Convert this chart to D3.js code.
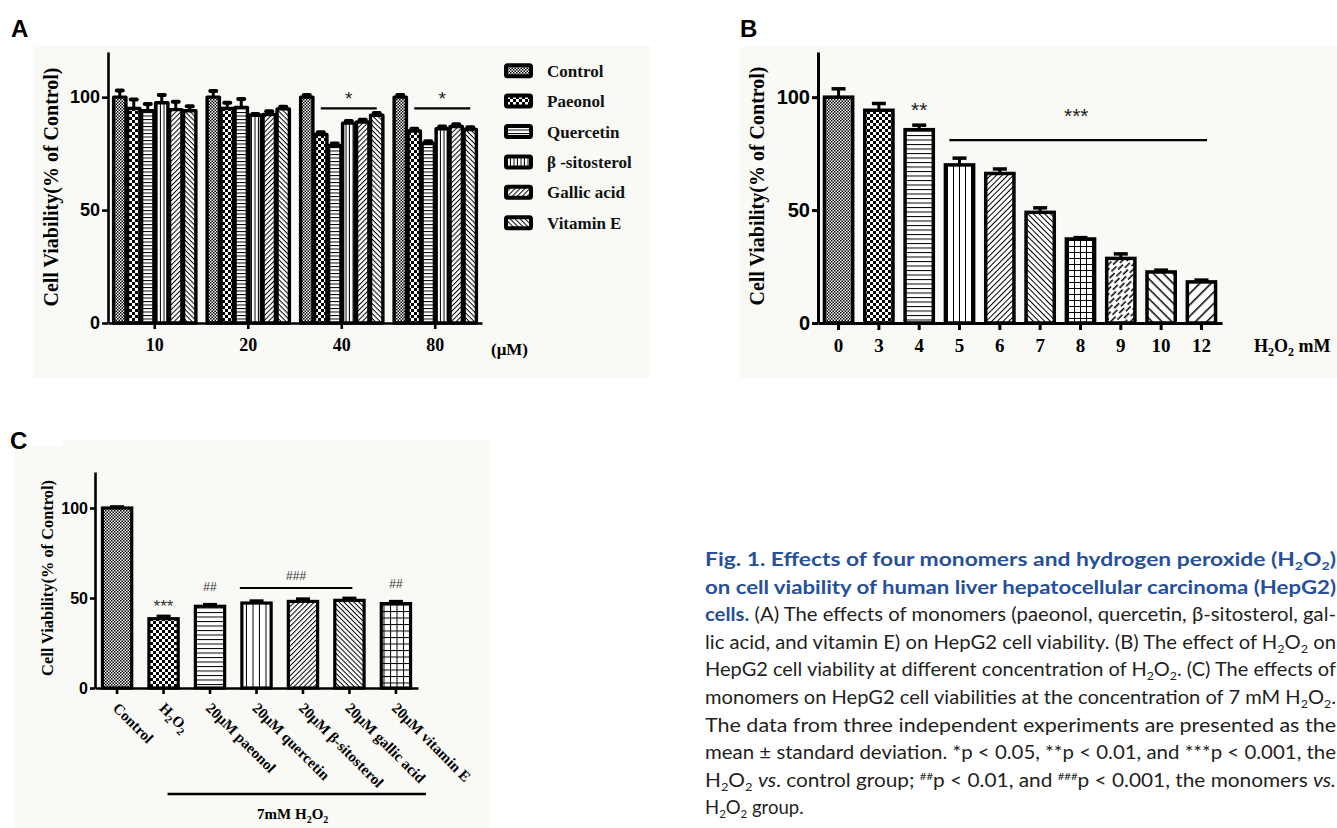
<!DOCTYPE html>
<html><head><meta charset="utf-8">
<script src="https://cdn.jsdelivr.net/npm/d3@7"></script>
<style>
html,body{margin:0;padding:0;background:#fff;}
svg{display:block;}
</style></head><body>
<svg id="fig" width="1337" height="828"></svg>
<script>
// ================= DATA =================
const yTicks = [0, 50, 100];

// Panel A : monomers at four doses (µM)
const doseA = ["10", "20", "40", "80"];
const seriesA = ["Control", "Paeonol", "Quercetin", "β -sitosterol", "Gallic acid", "Vitamin E"];
const controlA    = [100, 100, 100, 100];
const paeonolA    = [95, 95, 83.5, 85];
const quercetinA  = [94, 95.5, 78.5, 79.5];
const sitosterolA = [97.5, 92, 88.5, 86];
const gallicA     = [94.5, 92.3, 89, 87];
const vitaminEA   = [94, 94.8, 92, 85.7];
const controlErrA    = [3, 2.7, 1, 1];
const paeonolErrA    = [4, 2.5, 1, 1];
const quercetinErrA  = [3, 3.7, 1, 1];
const sitosterolErrA = [3.5, 0.6, 1, 1];
const gallicErrA     = [3.5, 1.5, 1, 1];
const vitaminEErrA   = [2, 1, 1, 1];

// Panel B : H2O2 concentration (mM)
const concB = ["0", "3", "4", "5", "6", "7", "8", "9", "10", "12"];
const meanB = [100, 94.2, 85.6, 70, 66.2, 49, 37.2, 28.6, 22.6, 18.2];
const errB  = [3.7, 3, 2, 3, 2, 2, 0.6, 2, 0.8, 0.8];

// Panel C : monomers at 7 mM H2O2
const groupsC = ["Control", "H2O2", "20μM paeonol", "20μM quercetin", "20μM β-sitosterol", "20μM gallic acid", "20μM vitamin E"];
const meanC = [100, 38.5, 45.4, 47.2, 48.1, 48.7, 46.9];
const errC  = [0.6, 1.3, 0.9, 1.1, 1.3, 1.1, 1.1];

// significance marks
const sigA = [{dose: "40", label: "*", level: 95}, {dose: "80", label: "*", level: 95}];
const sigB = [{bar: "4", label: "**"}];
const sigBLine = {from: "5", to: "12", label: "***", level: 81};
const sigC = [{bar: "H2O2", label: "***"}, {bar: "20μM paeonol", label: "##"}, {bar: "20μM vitamin E", label: "##"}];
const sigCLine = {from: "20μM quercetin", to: "20μM gallic acid", label: "###", level: 55.5};

// ================= DRAWING =================
const SERIF = "'Liberation Serif','Times New Roman',serif";
const SANS = "'Liberation Sans',Arial,sans-serif";
const svg = d3.select("#fig");
const defs = svg.append("defs");

function pattern(id, w, h, transform, draw) {
  const p = defs.append("pattern").attr("id", id)
    .attr("patternUnits", "userSpaceOnUse").attr("width", w).attr("height", h);
  if (transform) p.attr("patternTransform", transform);
  p.append("rect").attr("width", w).attr("height", h).attr("fill", "#fff");
  draw(p);
}
function checker(id, c) {
  pattern(id, 2 * c, 2 * c, null, p => {
    p.append("rect").attr("width", c).attr("height", c).attr("fill", "#000");
    p.append("rect").attr("x", c).attr("y", c).attr("width", c).attr("height", c).attr("fill", "#000");
  });
}
function lines(id, s, sw, angle) {
  pattern(id, s, s, `rotate(${angle})`, p =>
    p.append("rect").attr("width", s).attr("height", sw).attr("fill", "#000"));
}
function grid(id, s, sw) {
  pattern(id, s, s, null, p => {
    p.append("rect").attr("width", s).attr("height", sw).attr("fill", "#000");
    p.append("rect").attr("width", sw).attr("height", s).attr("fill", "#000");
  });
}
function dashDiag(id) {
  pattern(id, 12, 7, "rotate(-45)", p => {
    p.append("rect").attr("x", 0).attr("y", 0.5).attr("width", 7).attr("height", 1.5).attr("fill", "#000");
    p.append("rect").attr("x", 6).attr("y", 4).attr("width", 7).attr("height", 1.5).attr("fill", "#000");
    p.append("rect").attr("x", -6).attr("y", 4).attr("width", 7).attr("height", 1.5).attr("fill", "#000");
  });
}
// A
checker("aCtrl", 1.5); checker("aPae", 3);
lines("aQue", 3.5, 1, 0); lines("aSit", 3.5, 1, 90); lines("aGal", 3.5, 1, -45); lines("aVit", 3.5, 1, 45);
// B
checker("bC1", 1.5); checker("bC2", 3);
lines("bH", 4.5, 1, 0); lines("bV", 6, 1, 90); lines("bD1", 4, 1, -45); lines("bD2", 4, 1, 45);
grid("bG", 6, 1); dashDiag("bDash"); lines("bW1", 7, 1.5, 45); lines("bW2", 8, 1.5, -45);
// C
checker("cC1", 1.5); checker("cC2", 3);
lines("cH", 4.5, 1, 0); lines("cV", 6.5, 1, 90); lines("cD1", 3.5, 1, -45); lines("cD2", 3.5, 1, 45);
grid("cG", 6.5, 1);

const patA = ["aCtrl", "aPae", "aQue", "aSit", "aGal", "aVit"];
const patB = ["bC1", "bC2", "bH", "bV", "bD1", "bD2", "bG", "bDash", "bW1", "bW2"];
const patC = ["cC1", "cC2", "cH", "cV", "cD1", "cD2", "cG"];

// panel backgrounds
const BG = "#f9f9f6";
svg.append("rect").attr("x", 33).attr("y", 45).attr("width", 617).attr("height", 333).attr("fill", BG);
svg.append("rect").attr("x", 740).attr("y", 47).attr("width", 597).attr("height", 331).attr("fill", BG);
svg.append("rect").attr("x", 15).attr("y", 446).attr("width", 475).attr("height", 382).attr("fill", BG);
svg.append("rect").attr("x", 63).attr("y", 440).attr("width", 427).attr("height", 6).attr("fill", BG);

function panelLetter(t, x, y) {
  svg.append("text").attr("x", x).attr("y", y).text(t)
    .attr("font-family", SANS).attr("font-weight", "bold").attr("font-size", 24).attr("fill", "#000");
}
function styleAxis(g, sw, font, size) {
  g.select(".domain").attr("stroke-width", sw).attr("stroke", "#000");
  g.selectAll(".tick line").attr("stroke-width", sw).attr("stroke", "#000");
  g.selectAll(".tick text").attr("font-family", font).attr("font-weight", "bold")
    .attr("font-size", size).attr("fill", "#000");
}
function yLabel(text, x, y, size) {
  svg.append("text").attr("transform", `translate(${x},${y}) rotate(-90)`)
    .attr("text-anchor", "middle").attr("font-family", SERIF).attr("font-weight", "bold")
    .attr("font-size", size).attr("fill", "#000").text(text);
}
function h2o2(sel, prefix, suffix, subSize) {
  if (prefix) sel.append("tspan").text(prefix);
  sel.append("tspan").text("H");
  sel.append("tspan").attr("font-size", subSize).attr("dy", 4).text("2");
  sel.append("tspan").attr("dy", -4).text("O");
  sel.append("tspan").attr("font-size", subSize).attr("dy", 4).text("2");
  if (suffix) sel.append("tspan").attr("dy", -4).text(suffix);
}

// ---------- Panel A ----------
panelLetter("A", 11, 37);
const yA = d3.scaleLinear().domain([0, 120]).range([323, 52]);
const x0A = d3.scaleBand().domain(doseA).range([108, 482]).paddingInner(0.12).paddingOuter(0.06);
const x1A = d3.scaleBand().domain(d3.range(seriesA.length)).range([0, x0A.bandwidth()]).paddingInner(0.12);
const valsA = [controlA, paeonolA, quercetinA, sitosterolA, gallicA, vitaminEA];
const errsA = [controlErrA, paeonolErrA, quercetinErrA, sitosterolErrA, gallicErrA, vitaminEErrA];

const gA = svg.append("g");
doseA.forEach((d, i) => {
  seriesA.forEach((s, j) => {
    const v = valsA[j][i], e = errsA[j][i];
    const x = x0A(d) + x1A(j), w = x1A.bandwidth();
    gA.append("line").attr("x1", x + w / 2).attr("x2", x + w / 2)
      .attr("y1", yA(v)).attr("y2", yA(v + e)).attr("stroke", "#000").attr("stroke-width", 3);
    gA.append("line").attr("x1", x + w / 2 - 3).attr("x2", x + w / 2 + 3)
      .attr("y1", yA(v + e)).attr("y2", yA(v + e)).attr("stroke", "#000")
      .attr("stroke-width", 4).attr("stroke-linecap", "round");
    gA.append("rect").attr("x", x).attr("y", yA(v)).attr("width", w).attr("height", yA(0) - yA(v))
      .attr("fill", `url(#${patA[j]})`).attr("stroke", "#000").attr("stroke-width", 3.4)
      .attr("stroke-linejoin", "round");
  });
});
const gyA = svg.append("g").attr("transform", "translate(108,0)")
  .call(d3.axisLeft(yA).tickValues(yTicks).tickSize(6).tickSizeOuter(0).tickPadding(2));
styleAxis(gyA, 2.6, SANS, 18);
const gxA = svg.append("g").attr("transform", "translate(0,323)")
  .call(d3.axisBottom(x0A).tickSize(6).tickSizeOuter(0).tickPadding(9));
styleAxis(gxA, 2.6, SERIF, 18);
yLabel("Cell  Viability(% of Control)", 58, 187, 20);
svg.append("text").attr("x", 491).attr("y", 355).text("(μM)")
  .attr("font-family", SERIF).attr("font-weight", "bold").attr("font-size", 17);
sigA.forEach(s => {
  const xl = x0A(s.dose) + x1A(1) + x1A.bandwidth() / 2;
  const xr = x0A(s.dose) + x1A(5) + x1A.bandwidth() / 2;
  svg.append("line").attr("x1", xl).attr("x2", xr).attr("y1", yA(s.level)).attr("y2", yA(s.level))
    .attr("stroke", "#000").attr("stroke-width", 2.2);
  svg.append("text").attr("x", (xl + xr) / 2).attr("y", yA(s.level) - 3).attr("text-anchor", "middle")
    .attr("font-family", SANS).attr("font-size", 19).attr("fill", "#222").text(s.label);
});
// legend A
const legA = d3.scalePoint().domain(seriesA).range([70.7, 222.7]);
seriesA.forEach((s, j) => {
  const cy = legA(s);
  svg.append("rect").attr("x", 506).attr("y", cy - 5.5).attr("width", 25).attr("height", 11)
    .attr("rx", 1.5).attr("fill", `url(#${patA[j]})`).attr("stroke", "#000").attr("stroke-width", 4);
  svg.append("text").attr("x", 547).attr("y", cy + 6).text(s)
    .attr("font-family", SERIF).attr("font-weight", "bold").attr("font-size", 17).attr("fill", "#111");
});

// ---------- Panel B ----------
panelLetter("B", 740, 37);
const yB = d3.scaleLinear().domain([0, 120]).range([323, 52]);
const xB = d3.scaleBand().domain(concB).range([818, 1222]).paddingInner(0.3).paddingOuter(0.16);
const gB = svg.append("g");
concB.forEach((c, i) => {
  const v = meanB[i], e = errB[i], x = xB(c), w = xB.bandwidth();
  gB.append("line").attr("x1", x + w / 2).attr("x2", x + w / 2).attr("y1", yB(v)).attr("y2", yB(v + e))
    .attr("stroke", "#000").attr("stroke-width", 3);
  gB.append("line").attr("x1", x + w / 2 - 7).attr("x2", x + w / 2 + 7).attr("y1", yB(v + e)).attr("y2", yB(v + e))
    .attr("stroke", "#000").attr("stroke-width", 3.5);
  gB.append("rect").attr("x", x).attr("y", yB(v)).attr("width", w).attr("height", yB(0) - yB(v))
    .attr("fill", `url(#${patB[i]})`).attr("stroke", "#000").attr("stroke-width", 3.5);
});
const gyB = svg.append("g").attr("transform", "translate(818,0)")
  .call(d3.axisLeft(yB).tickValues(yTicks).tickSize(6).tickSizeOuter(0).tickPadding(2));
styleAxis(gyB, 3, SANS, 20);
const gxB = svg.append("g").attr("transform", "translate(0,323)")
  .call(d3.axisBottom(xB).tickSize(7).tickSizeOuter(0).tickPadding(9));
styleAxis(gxB, 3, SERIF, 19);
yLabel("Cell Viability(% of Control)", 764, 186, 20);
h2o2(svg.append("text").attr("x", 1254).attr("y", 352).attr("font-family", SERIF)
  .attr("font-weight", "bold").attr("font-size", 18), null, " mM", 12);
sigB.forEach(s => {
  const i = concB.indexOf(s.bar);
  svg.append("text").attr("x", xB(s.bar) + xB.bandwidth() / 2).attr("y", yB(meanB[i] + errB[i]) - 8)
    .attr("text-anchor", "middle").attr("font-family", SANS).attr("font-size", 21).attr("fill", "#222").text(s.label);
});
{
  const xl = xB(sigBLine.from) + 4, xr = xB(sigBLine.to) + xB.bandwidth() * 0.7;
  svg.append("line").attr("x1", xl).attr("x2", xr).attr("y1", yB(sigBLine.level)).attr("y2", yB(sigBLine.level))
    .attr("stroke", "#000").attr("stroke-width", 2.2);
  svg.append("text").attr("x", (xl + xr) / 2 - 2).attr("y", yB(sigBLine.level) - 17).attr("text-anchor", "middle")
    .attr("font-family", SANS).attr("font-size", 21).attr("fill", "#222").text(sigBLine.label);
}

// ---------- Panel C ----------
panelLetter("C", 10, 449);
const yC = d3.scaleLinear().domain([0, 120]).range([688, 472]);
const xC = d3.scaleBand().domain(groupsC).range([95, 418]).paddingInner(0.37).paddingOuter(0.16);
const gC = svg.append("g");
groupsC.forEach((g, i) => {
  const v = meanC[i], e = errC[i], x = xC(g), w = xC.bandwidth();
  gC.append("line").attr("x1", x + w / 2).attr("x2", x + w / 2).attr("y1", yC(v)).attr("y2", yC(v + e))
    .attr("stroke", "#000").attr("stroke-width", 3);
  gC.append("line").attr("x1", x + w / 2 - 7).attr("x2", x + w / 2 + 7).attr("y1", yC(v + e)).attr("y2", yC(v + e))
    .attr("stroke", "#000").attr("stroke-width", 3.5);
  gC.append("rect").attr("x", x).attr("y", yC(v)).attr("width", w).attr("height", yC(0) - yC(v))
    .attr("fill", `url(#${patC[i]})`).attr("stroke", "#000").attr("stroke-width", 3.2);
});
const gyC = svg.append("g").attr("transform", "translate(95,0)")
  .call(d3.axisLeft(yC).tickValues(yTicks).tickSize(5).tickSizeOuter(0).tickPadding(2));
styleAxis(gyC, 2.6, SANS, 16);
const gxC = svg.append("g").attr("transform", "translate(0,688)")
  .call(d3.axisBottom(xC).tickSize(6).tickSizeOuter(0).tickFormat(""));
styleAxis(gxC, 2.6, SERIF, 15);
groupsC.forEach(g => {
  const t = svg.append("text")
    .attr("transform", `translate(${xC(g) + xC.bandwidth() / 2 - 5},709) rotate(45)`)
    .attr("font-family", SERIF).attr("font-weight", "bold").attr("font-size", 15).attr("fill", "#000");
  if (g === "H2O2") h2o2(t, null, null, 11); else t.text(g);
});
yLabel("Cell Viability(% of Control)", 53, 578, 16.4);
sigC.forEach(s => {
  const i = groupsC.indexOf(s.bar);
  const big = s.label.startsWith("*");
  svg.append("text").attr("x", xC(s.bar) + xC.bandwidth() / 2).attr("y", yC(meanC[i] + errC[i]) - (big ? 4 : 14))
    .attr("text-anchor", "middle").attr("font-family", SANS).attr("font-size", big ? 17 : 12)
    .attr("fill", "#333").text(s.label);
});
{
  const xl = xC(sigCLine.from) - 2, xr = xC(sigCLine.to) + xC.bandwidth() * 0.6;
  svg.append("line").attr("x1", xl).attr("x2", xr).attr("y1", yC(sigCLine.level)).attr("y2", yC(sigCLine.level))
    .attr("stroke", "#000").attr("stroke-width", 2);
  svg.append("text").attr("x", (xl + xr) / 2).attr("y", yC(sigCLine.level) - 8).attr("text-anchor", "middle")
    .attr("font-family", SANS).attr("font-size", 12).attr("fill", "#333").text(sigCLine.label);
  const bl = xC("H2O2") + xC.bandwidth() / 2 + 4, br = xC("20μM vitamin E") + xC.bandwidth() / 2 + 30;
  svg.append("line").attr("x1", bl).attr("x2", br).attr("y1", 794).attr("y2", 794)
    .attr("stroke", "#000").attr("stroke-width", 2.4);
  h2o2(svg.append("text").attr("x", (bl + br) / 2 - 4).attr("y", 819).attr("text-anchor", "middle")
    .attr("font-family", SERIF).attr("font-weight", "bold").attr("font-size", 15), "7mM ", null, 10);
}

// ---------- Caption ----------
const BLUE = "#27509b", DARK = "#231f20";
const captionLines = [
  [["Fig. 1. Effects of four monomers and hydrogen peroxide (H", "b"], ["2", "bsub"], ["O", "b"], ["2", "bsub"], [")", "b"]],
  [["on cell viability of human liver hepatocellular carcinoma (HepG2)", "b"]],
  [["cells.", "b"], [" (A) The effects of monomers (paeonol, quercetin, β-sitosterol, gal-", "r"]],
  [["lic acid, and vitamin E) on HepG2 cell viability. (B) The effect of H", "r"], ["2", "sub"], ["O", "r"], ["2", "sub"], [" on", "r"]],
  [["HepG2 cell viability at different concentration of H", "r"], ["2", "sub"], ["O", "r"], ["2", "sub"], [". (C) The effects of", "r"]],
  [["monomers on HepG2 cell viabilities at the concentration of 7 mM H", "r"], ["2", "sub"], ["O", "r"], ["2", "sub"], [".", "r"]],
  [["The data from three independent experiments are presented as the", "r"]],
  [["mean ± standard deviation. *p < 0.05, **p < 0.01, and ***p < 0.001, the", "r"]],
  [["H", "r"], ["2", "sub"], ["O", "r"], ["2", "sub"], [" ", "r"], ["vs", "i"], [". control group; ", "r"], ["##", "sup"],
   ["p < 0.01, and ", "r"], ["###", "sup"], ["p < 0.001, the monomers ", "r"], ["vs.", "i"]],
  [["H", "r"], ["2", "sub"], ["O", "r"], ["2", "sub"], [" group.", "r"]]
];
const CAP_FONT = "Lato,'Liberation Sans',sans-serif";
const capX = 705, capY = 566, capLead = 27.6, capW = 631, capSize = 18.5;
captionLines.forEach((segs, k) => {
  const t = svg.append("text").attr("x", capX).attr("y", capY + k * capLead)
    .attr("font-family", CAP_FONT).attr("font-size", capSize).attr("fill", DARK);
  if (k < captionLines.length - 1) t.attr("textLength", capW).attr("lengthAdjust", "spacingAndGlyphs");
  let shift = 0;
  segs.forEach(([txt, st]) => {
    const sp = t.append("tspan").text(txt);
    let target = 0;
    if (st.includes("sub")) { target = 4; sp.attr("font-size", capSize * 0.62); }
    if (st === "sup") { target = -7; sp.attr("font-size", capSize * 0.55); }
    if (st.startsWith("b")) sp.attr("font-weight", "bold").attr("fill", BLUE);
    if (st === "i") sp.attr("font-style", "italic");
    if (target !== shift) { sp.attr("dy", target - shift); shift = target; }
  });
});
</script>
</body></html>
